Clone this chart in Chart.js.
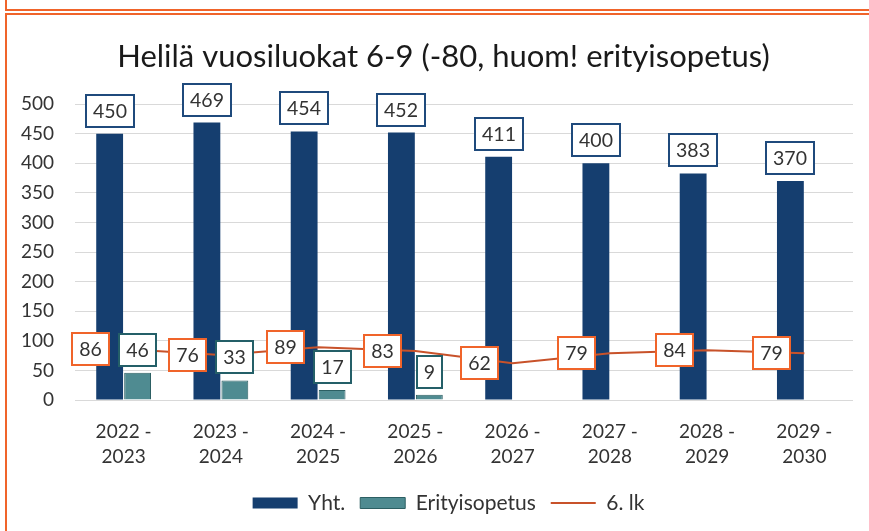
<!DOCTYPE html>
<html>
<head>
<meta charset="utf-8">
<script src="https://cdn.jsdelivr.net/npm/chart.js@4.4.1/dist/chart.umd.min.js"></script>
<style>
  html, body { margin: 0; padding: 0; background: #ffffff; }
  #wrap { position: relative; width: 869px; height: 531px; overflow: hidden; background: #fff; }
  #c { position: absolute; left: 0; top: 0; }
  .fr { position: absolute; background: #F0642A; }
</style>
</head>
<body>
<div id="wrap">
  <canvas id="c" width="869" height="531"></canvas>
  <div class="fr" style="left:5px;top:0;width:2px;height:11px;"></div>
  <div class="fr" style="left:5px;top:9px;width:864px;height:2px;"></div>
  <div class="fr" style="left:5px;top:13px;width:864px;height:2px;"></div>
  <div class="fr" style="left:5px;top:13px;width:2px;height:518px;"></div>
</div>
<script>
const categories = [
  ['2022 -', '2023'], ['2023 -', '2024'], ['2024 -', '2025'], ['2025 -', '2026'],
  ['2026 -', '2027'], ['2027 -', '2028'], ['2028 -', '2029'], ['2029 -', '2030']
];
const yhtValues = [450, 469, 454, 452, 411, 400, 383, 370];
const erityValues = [46, 33, 17, 9, null, null, null, null];
const lkValues = [86, 76, 89, 83, 62, 79, 84, 79];
const yTicks = [0, 50, 100, 150, 200, 250, 300, 350, 400, 450, 500];

Chart.defaults.font.family = 'Lato, "Open Sans", sans-serif';

const boxLabels = {
  id: 'boxLabels',
  afterDatasetsDraw(chart) {
    const ctx = chart.ctx;
    ctx.save();
    ctx.font = '19.5px Lato';
    ctx.textAlign = 'center';
    ctx.textBaseline = 'middle';
    chart.data.datasets.forEach((ds, i) => {
      const meta = chart.getDatasetMeta(i);
      if (meta.hidden) return;
      meta.data.forEach((el, j) => {
        const v = ds.data[j];
        if (v === null || v === undefined) return;
        const txt = String(v);
        const tw = ctx.measureText(txt).width;
        const w = Math.round(tw + 16), h = 34;
        let cx, cy;
        if (meta.type === 'bar') {
          cx = el.x; cy = el.y - 6 - h / 2;
        } else {
          cx = el.x - 13.5 - w / 2; cy = el.y;
        }
        const x0 = Math.round(cx - w / 2), y0 = Math.round(cy - h / 2);
        ctx.fillStyle = '#ffffff';
        ctx.fillRect(x0, y0, w, h);
        ctx.lineWidth = 2;
        ctx.strokeStyle = ds.labelBorder;
        ctx.strokeRect(x0 + 1, y0 + 1, w - 2, h - 2);
        ctx.fillStyle = '#333333';
        ctx.fillText(txt, x0 + w / 2, y0 + h / 2 + 1);
      });
    });
    ctx.restore();
  }
};

const boxShift = {
  id: 'boxShift',
  afterLayout(chart) {
    if (chart.legend) { chart.legend.left += 22; chart.legend.right += 22; }
    if (chart.titleBlock) { chart.titleBlock.left += 17; chart.titleBlock.right += 17; }
  }
};

new Chart(document.getElementById('c'), {
  type: 'bar',
  data: {
    labels: categories,
    datasets: [
      {
        label: 'Yht.',
        data: yhtValues,
        backgroundColor: '#153E6F',
        borderWidth: 0,
        labelBorder: '#1F4A7C',
        pointStyle: 'rect',
        order: 1,
        categoryPercentage: 0.575,
        barPercentage: 0.96
      },
      {
        label: 'Erityisopetus',
        data: erityValues,
        backgroundColor: '#4F8B91',
        borderColor: '#2C5F63',
        borderWidth: 1,
        labelBorder: '#245F68',
        pointStyle: 'rect',
        order: 1,
        categoryPercentage: 0.575,
        barPercentage: 0.96
      },
      {
        type: 'line',
        label: '6. lk',
        data: lkValues,
        borderColor: '#C8522A',
        backgroundColor: '#C8522A',
        borderWidth: 2,
        pointRadius: 0,
        pointHoverRadius: 0,
        pointStyle: 'line',
        labelBorder: '#F0642A',
        tension: 0,
        order: 0
      }
    ]
  },
  options: {
    responsive: false,
    animation: false,
    events: [],
    layout: { padding: { left: 0, right: 16, top: 0, bottom: 7.5 } },
    plugins: {
      title: {
        display: true,
        text: 'Helilä vuosiluokat 6-9 (-80, huom! erityisopetus)',
        color: '#1a1a1a',
        font: { size: 31, weight: 'normal' },
        padding: { top: 38, bottom: 29 }
      },
      legend: {
        position: 'bottom',
        labels: {
          usePointStyle: true,
          pointStyleWidth: 45,
          boxHeight: 11,
          color: '#333333',
          font: { size: 21 },
          padding: 15,
          sort: (a, b) => a.datasetIndex - b.datasetIndex
        }
      },
      tooltip: { enabled: false }
    },
    scales: {
      x: {
        afterFit(s) { s.height = 77.5; },
        grid: { display: false, drawTicks: false },
        border: { display: false },
        ticks: {
          color: '#333333',
          font: { size: 19, lineHeight: 1.32 },
          padding: 19,
          maxRotation: 0
        }
      },
      y: {
        min: 0,
        max: 500,
        afterFit(s) { s.width = 75; },
        afterBuildTicks(s) { s.ticks = yTicks.map(v => ({ value: v })); },
        grid: { color: '#D9D9D9', drawTicks: false },
        border: { display: false },
        ticks: {
          color: '#333333',
          font: { size: 19 },
          padding: 21
        }
      }
    }
  },
  plugins: [boxLabels, boxShift]
});
</script>
</body>
</html>
